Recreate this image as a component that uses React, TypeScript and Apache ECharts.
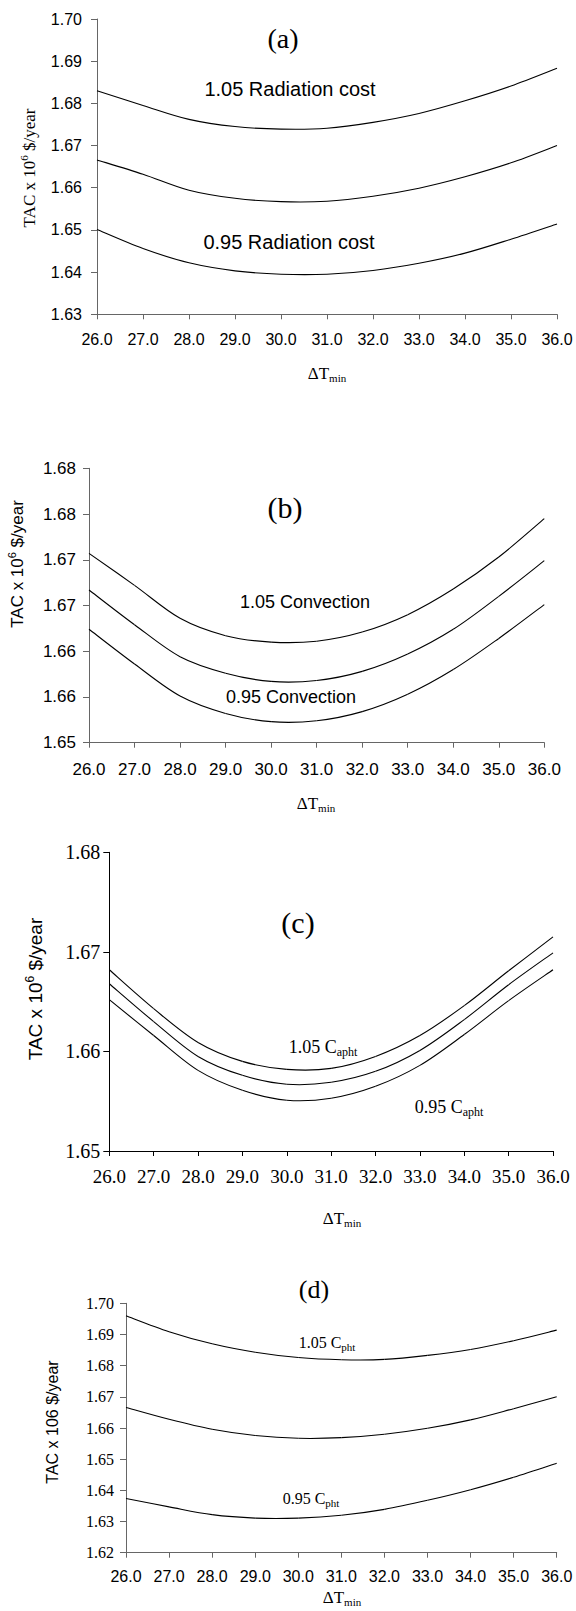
import React, { useEffect, useRef } from "react";
import * as echarts from "echarts";

const xValues = [26, 27, 28, 29, 30, 31, 32, 33, 34, 35, 36];
const xTickLabels = ["26.0", "27.0", "28.0", "29.0", "30.0", "31.0", "32.0", "33.0", "34.0", "35.0", "36.0"];

const aHigh = [1.683, 1.6795, 1.6762, 1.6745, 1.6739, 1.6741, 1.6755, 1.6776, 1.6806, 1.6841, 1.6883];
const aBase = [1.6666, 1.6632, 1.6594, 1.6575, 1.6567, 1.6568, 1.658, 1.6599, 1.6626, 1.6659, 1.67];
const aLow = [1.6501, 1.6456, 1.6422, 1.6403, 1.6395, 1.6395, 1.6404, 1.6421, 1.6445, 1.6478, 1.6514];

const bHigh = [1.6707, 1.6672, 1.6636, 1.6617, 1.661, 1.6611, 1.6621, 1.664, 1.6668, 1.6703, 1.6745];
const bBase = [1.6667, 1.6629, 1.6594, 1.6576, 1.6567, 1.6568, 1.6578, 1.6597, 1.6624, 1.666, 1.6699];
const bLow = [1.6624, 1.6586, 1.6551, 1.6532, 1.6523, 1.6524, 1.6534, 1.6553, 1.658, 1.6614, 1.6651];

const cHigh = [1.6682, 1.6643, 1.6609, 1.659, 1.6582, 1.6583, 1.6595, 1.6616, 1.6646, 1.6681, 1.6715];
const cBase = [1.6668, 1.663, 1.6595, 1.6576, 1.6567, 1.6569, 1.658, 1.6601, 1.6632, 1.6667, 1.6699];
const cLow = [1.6652, 1.6616, 1.6581, 1.6561, 1.6551, 1.6553, 1.6565, 1.6586, 1.6617, 1.6651, 1.6682];

const dHigh = [1.696, 1.6909, 1.687, 1.6843, 1.6826, 1.6819, 1.682, 1.6833, 1.6852, 1.688, 1.6914];
const dBase = [1.6666, 1.6628, 1.6596, 1.6576, 1.6567, 1.6569, 1.658, 1.6599, 1.6626, 1.6662, 1.67];
const dLow = [1.6374, 1.6347, 1.6322, 1.6311, 1.6311, 1.632, 1.6339, 1.6368, 1.6402, 1.6442, 1.6487];

const aYTicks = ["1.63", "1.64", "1.65", "1.66", "1.67", "1.68", "1.69", "1.70"];
const bYTicks = ["1.65", "1.66", "1.66", "1.67", "1.67", "1.68", "1.68"];
const cYTicks = ["1.65", "1.66", "1.67", "1.68"];
const dYTicks = ["1.62", "1.63", "1.64", "1.65", "1.66", "1.67", "1.68", "1.69", "1.70"];

const SANS = "'Liberation Sans', Arial, sans-serif";
const SERIF = "'Liberation Serif', 'Times New Roman', serif";

const pairs = (ys: number[]) => xValues.map((x, i) => [x, ys[i]]);

// Smooth (Catmull-Rom) curve drawn segment by segment through the axis scales.
const smoothSeries = (ys: number[], gi: number) => ({
  type: "custom",
  coordinateSystem: "cartesian2d",
  xAxisIndex: gi,
  yAxisIndex: gi,
  data: pairs(ys),
  encode: { x: 0, y: 1 },
  silent: true,
  renderItem: (params: any, api: any) => {
    const i = params.dataIndex;
    const n = xValues.length;
    if (i >= n - 1) return null;
    const P = (k: number) => {
      const kk = Math.max(0, Math.min(n - 1, k));
      return api.coord([xValues[kk], ys[kk]]);
    };
    const p0 = P(i - 1);
    const p1 = P(i);
    const p2 = P(i + 1);
    const p3 = P(i + 2);
    const t = 1 / 6;
    return {
      type: "bezierCurve",
      shape: {
        x1: p1[0],
        y1: p1[1],
        cpx1: p1[0] + (p2[0] - p0[0]) * t,
        cpy1: p1[1] + (p2[1] - p0[1]) * t,
        cpx2: p2[0] - (p3[0] - p1[0]) * t,
        cpy2: p2[1] - (p3[1] - p1[1]) * t,
        x2: p2[0],
        y2: p2[1],
      },
      style: { stroke: "#000", lineWidth: 1.1, fill: "none" },
    };
  },
});

export default function App() {
  const ref = useRef<HTMLDivElement>(null);
  useEffect(() => {
    if (!ref.current) return;
    const chart = echarts.init(ref.current, null, { renderer: "svg" });

    const panels = [
      { grid: { left: 97, top: 19, width: 460, height: 295.3 }, min: 1.63, max: 1.7, interval: 0.01, ticks: aYTicks,
        yFont: SANS, ySize: 16, yMargin: 15, xFont: SANS, xSize: 16, xMargin: 17, axisColor: "#666" },
      { grid: { left: 89, top: 468.3, width: 455.3, height: 274.4 }, min: 1.65, max: 1.68, interval: 0.005, ticks: bYTicks,
        yFont: SANS, ySize: 17, yMargin: 13, xFont: SANS, xSize: 17, xMargin: 18, axisColor: "#666" },
      { grid: { left: 109.3, top: 852.3, width: 443.7, height: 298.7 }, min: 1.65, max: 1.68, interval: 0.01, ticks: cYTicks,
        yFont: SERIF, ySize: 20, yMargin: 9, xFont: SERIF, xSize: 19, xMargin: 16, axisColor: "#000" },
      { grid: { left: 126, top: 1303.3, width: 430.7, height: 249.4 }, min: 1.62, max: 1.7, interval: 0.01, ticks: dYTicks,
        yFont: SERIF, ySize: 16, yMargin: 12, xFont: SANS, xSize: 16, xMargin: 16, axisColor: "#666" },
    ];

    const seriesData = [
      [aHigh, aBase, aLow],
      [bHigh, bBase, bLow],
      [cHigh, cBase, cLow],
      [dHigh, dBase, dLow],
    ];

    const series: any[] = [];
    seriesData.forEach((group, gi) => {
      group.forEach((ys) => series.push(smoothSeries(ys, gi)));
    });

    const sub = (size: number) => ({ fontSize: size, fontFamily: SERIF, fill: "#000", lineHeight: 7, verticalAlign: "bottom" });
    const sup = (size: number, family: string) => ({ fontSize: size, fontFamily: family, fill: "#000", lineHeight: 6, verticalAlign: "top" });

    const txt = (x: number, y: number, text: string, size: number, family: string, rich?: any, rotation = 0) => ({
      type: "text",
      x,
      y,
      rotation,
      style: {
        text,
        fontSize: size,
        fontFamily: family,
        fill: "#000",
        align: "center",
        verticalAlign: "middle",
        rich,
      },
    });

    const dT = (x: number, y: number) =>
      txt(x, y, "{m|ΔT}{s|min}", 17, SERIF, {
        m: { fontSize: 17, fontFamily: SERIF, fill: "#000", lineHeight: 20 },
        s: sub(11),
      });

    const yTitle = (x: number, y: number, size: number, family: string, withSup: boolean) =>
      withSup
        ? txt(x, y, "{n|TAC x 10}{p|6}{n| $/year}", size, family, {
            n: { fontSize: size, fontFamily: family, fill: "#000", lineHeight: size + 4 },
            p: sup(Math.round(size * 0.62), family),
          }, Math.PI / 2)
        : txt(x, y, "TAC x 106 $/year", size, family, undefined, Math.PI / 2);

    const capLabel = (x: number, y: number, head: string, subText: string, size: number) =>
      txt(x, y, `{m|${head}}{s|${subText}}`, size, SERIF, {
        m: { fontSize: size, fontFamily: SERIF, fill: "#000", lineHeight: size + 4 },
        s: sub(Math.round(size * 0.68)),
      });

    const graphic = [
      txt(283, 38, "(a)", 28, SERIF),
      txt(290, 89, "1.05 Radiation cost", 20, SANS),
      txt(289, 242, "0.95 Radiation cost", 20, SANS),
      yTitle(29, 168, 17, SERIF, true),
      dT(327, 373),

      txt(285, 507, "(b)", 30, SERIF),
      txt(305, 602, "1.05 Convection", 18, SANS),
      txt(291, 697, "0.95 Convection", 18, SANS),
      yTitle(17, 564, 17, SANS, true),
      dT(316, 803),

      txt(298, 922, "(c)", 30, SERIF),
      capLabel(323, 1047, "1.05 C", "apht", 18),
      capLabel(449, 1107, "0.95 C", "apht", 18),
      yTitle(35, 989, 19, SANS, true),
      dT(342, 1218),

      txt(314, 1289, "(d)", 26, SERIF),
      capLabel(327, 1342, "1.05 C", "pht", 16),
      capLabel(311, 1498, "0.95 C", "pht", 16),
      yTitle(52, 1422, 16, SANS, false),
      dT(342, 1597),
    ];

    chart.setOption({
      animation: false,
      backgroundColor: "#fff",
      grid: panels.map((p) => ({ ...p.grid, containLabel: false })),
      xAxis: panels.map((p, i) => ({
        type: "value",
        gridIndex: i,
        min: 26,
        max: 36,
        interval: 1,
        axisLine: { show: true, onZero: false, lineStyle: { color: p.axisColor, width: 1 } },
        axisTick: { show: true, length: 5, lineStyle: { color: p.axisColor } },
        splitLine: { show: false },
        axisLabel: {
          margin: p.xMargin,
          color: "#000",
          fontSize: p.xSize,
          fontFamily: p.xFont,
          formatter: (v: number) => {
            const k = xValues.indexOf(Math.round(v));
            return k >= 0 ? xTickLabels[k] : String(v);
          },
        },
      })),
      yAxis: panels.map((p, i) => ({
        type: "value",
        gridIndex: i,
        min: p.min,
        max: p.max,
        interval: p.interval,
        axisLine: { show: true, lineStyle: { color: p.axisColor, width: 1 } },
        axisTick: { show: true, length: 6, lineStyle: { color: p.axisColor } },
        splitLine: { show: false },
        axisLabel: {
          margin: p.yMargin,
          color: "#000",
          fontSize: p.ySize,
          fontFamily: p.yFont,
          formatter: (v: number) => {
            const k = Math.round((v - p.min) / p.interval);
            return p.ticks[k] ?? v.toFixed(2);
          },
        },
      })),
      series,
      graphic,
    });

    return () => chart.dispose();
  }, []);

  return (
    <div
      ref={ref}
      style={{ position: "absolute", left: 0, top: 0, width: 576, height: 1611, background: "#fff" }}
    />
  );
}
